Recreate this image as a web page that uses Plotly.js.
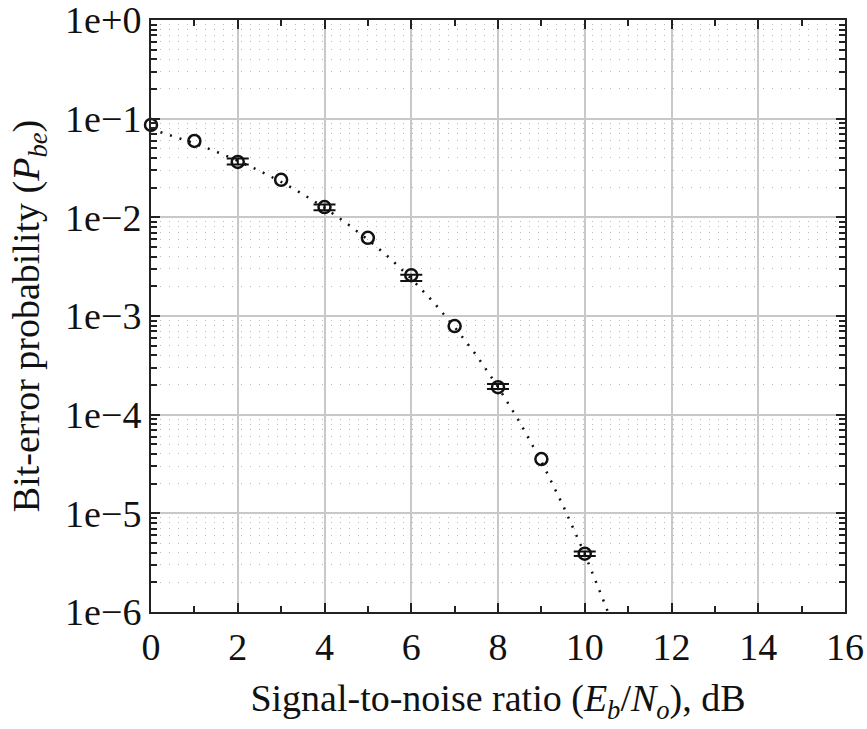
<!DOCTYPE html>
<html>
<head>
<meta charset="utf-8">
<script src="https://cdn.plot.ly/plotly-3.0.1.min.js"></script>
<style>html,body{margin:0;padding:0;background:#fff;}</style>
</head>
<body>
<div id="chart" style="width:867px;height:729px;"></div>
<script>
// Theoretical curve (dotted)
const theoryX = [0, 0.5, 1, 1.5, 2, 2.5, 3, 3.5, 4, 4.5, 5, 5.5, 6, 6.5, 7, 7.5, 8, 8.5, 9, 9.5, 10, 10.5, 11];
const theoryY = [0.0786, 0.0671, 0.0563, 0.0464, 0.0375, 0.0296, 0.0229, 0.0172, 0.0125, 0.00877, 0.00595, 0.00388, 0.00239, 0.00140, 0.000773, 0.000401, 0.000191, 0.0000840, 0.0000336, 0.0000120, 0.00000387, 0.00000110, 0.00000026];

// Simulated points (circles)
const simX = [0, 1, 2, 3, 4, 5, 6, 7, 8, 9, 10];
const simY = [0.0863, 0.0594, 0.0364, 0.0240, 0.0127, 0.0062, 0.00259, 0.00079, 0.000190, 0.0000355, 0.0000039];

// Points with error bars
const errX = [2, 4, 6, 8, 10];
const errY = [0.0364, 0.0127, 0.00259, 0.000190, 0.0000039];
const errPlus = [0.0030, 0.0008, 0.00003, 0.000015, 0.0000002];
const errMinus = [0.0020, 0.0009, 0.00033, 0.000008, 0.0000002];

// Tick labels
const yTickVals = [1, 0.1, 0.01, 0.001, 0.0001, 0.00001, 0.000001];
const yTickText = ['1e+0', '1e\u22121', '1e\u22122', '1e\u22123', '1e\u22124', '1e\u22125', '1e\u22126'];
const xTickVals = [0, 2, 4, 6, 8, 10, 12, 14, 16];
const xTickText = ['0', '2', '4', '6', '8', '10', '12', '14', '16'];

const yMinor = [];
for (let e = -6; e < 0; e++) for (let m = 2; m <= 9; m++) yMinor.push(m * Math.pow(10, e));

const traces = [
  {x: theoryX, y: theoryY, mode: 'lines', type: 'scatter',
   line: {color: '#111', width: 2.5, dash: '2px,8px'}, hoverinfo: 'skip'},
  {x: simX, y: simY, mode: 'markers', type: 'scatter', cliponaxis: false,
   marker: {symbol: 'circle-open', size: 12, color: '#111', line: {width: 2.5, color: '#111'}}},
  {x: errX, y: errY, mode: 'markers', type: 'scatter', cliponaxis: false,
   marker: {size: 1, color: 'rgba(0,0,0,0)'},
   error_y: {type: 'data', symmetric: false, array: errPlus, arrayminus: errMinus,
             color: '#111', thickness: 2, width: 11}}
];

const font = {family: 'Liberation Serif, Times New Roman, serif', size: 38, color: '#111'};

const layout = {
  width: 867, height: 729,
  margin: {l: 151, r: 22, t: 20, b: 117},
  paper_bgcolor: '#fff', plot_bgcolor: '#fff',
  showlegend: false,
  font: font,
  xaxis: {
    range: [0, 16], tickmode: 'array', tickvals: xTickVals, ticktext: xTickText,
    ticks: 'inside', ticklen: 9, tickwidth: 2, tickcolor: '#222',
    showline: true, linecolor: '#222', linewidth: 2, mirror: 'allticks',
    showgrid: true, gridcolor: '#c8c8c8', gridwidth: 2, zeroline: false,
    tickfont: font, ticklabeloverflow: 'allow',
    minor: {tickmode: 'array', tickvals: [1, 3, 5, 7, 9, 11, 13, 15], ticks: 'inside', ticklen: 6, tickwidth: 2, tickcolor: '#222', showgrid: false},
    title: {text: 'Signal-to-noise ratio (<i>E<sub>b</sub></i>/<i>N<sub>o</sub></i>), dB', font: font, standoff: 18}
  },
  yaxis: {
    type: 'log', range: [-6, 0], tickmode: 'array', tickvals: yTickVals, ticktext: yTickText,
    ticks: 'inside', ticklen: 9, tickwidth: 2, tickcolor: '#222',
    showline: true, linecolor: '#222', linewidth: 2, mirror: 'allticks',
    showgrid: true, gridcolor: '#c8c8c8', gridwidth: 2, zeroline: false,
    tickfont: font, ticklabeloverflow: 'allow',
    minor: {tickmode: 'array', tickvals: yMinor, ticks: 'inside', ticklen: 6, tickwidth: 2, tickcolor: '#222',
            showgrid: true, gridcolor: '#b8b8b8', gridwidth: 1, griddash: '1px,8px'},
    title: {text: 'Bit-error probability (<i>P<sub>be</sub></i>)', font: font, standoff: 14}
  }
};

Plotly.newPlot('chart', traces, layout, {displayModeBar: false, staticPlot: true});
</script>
</body>
</html>
